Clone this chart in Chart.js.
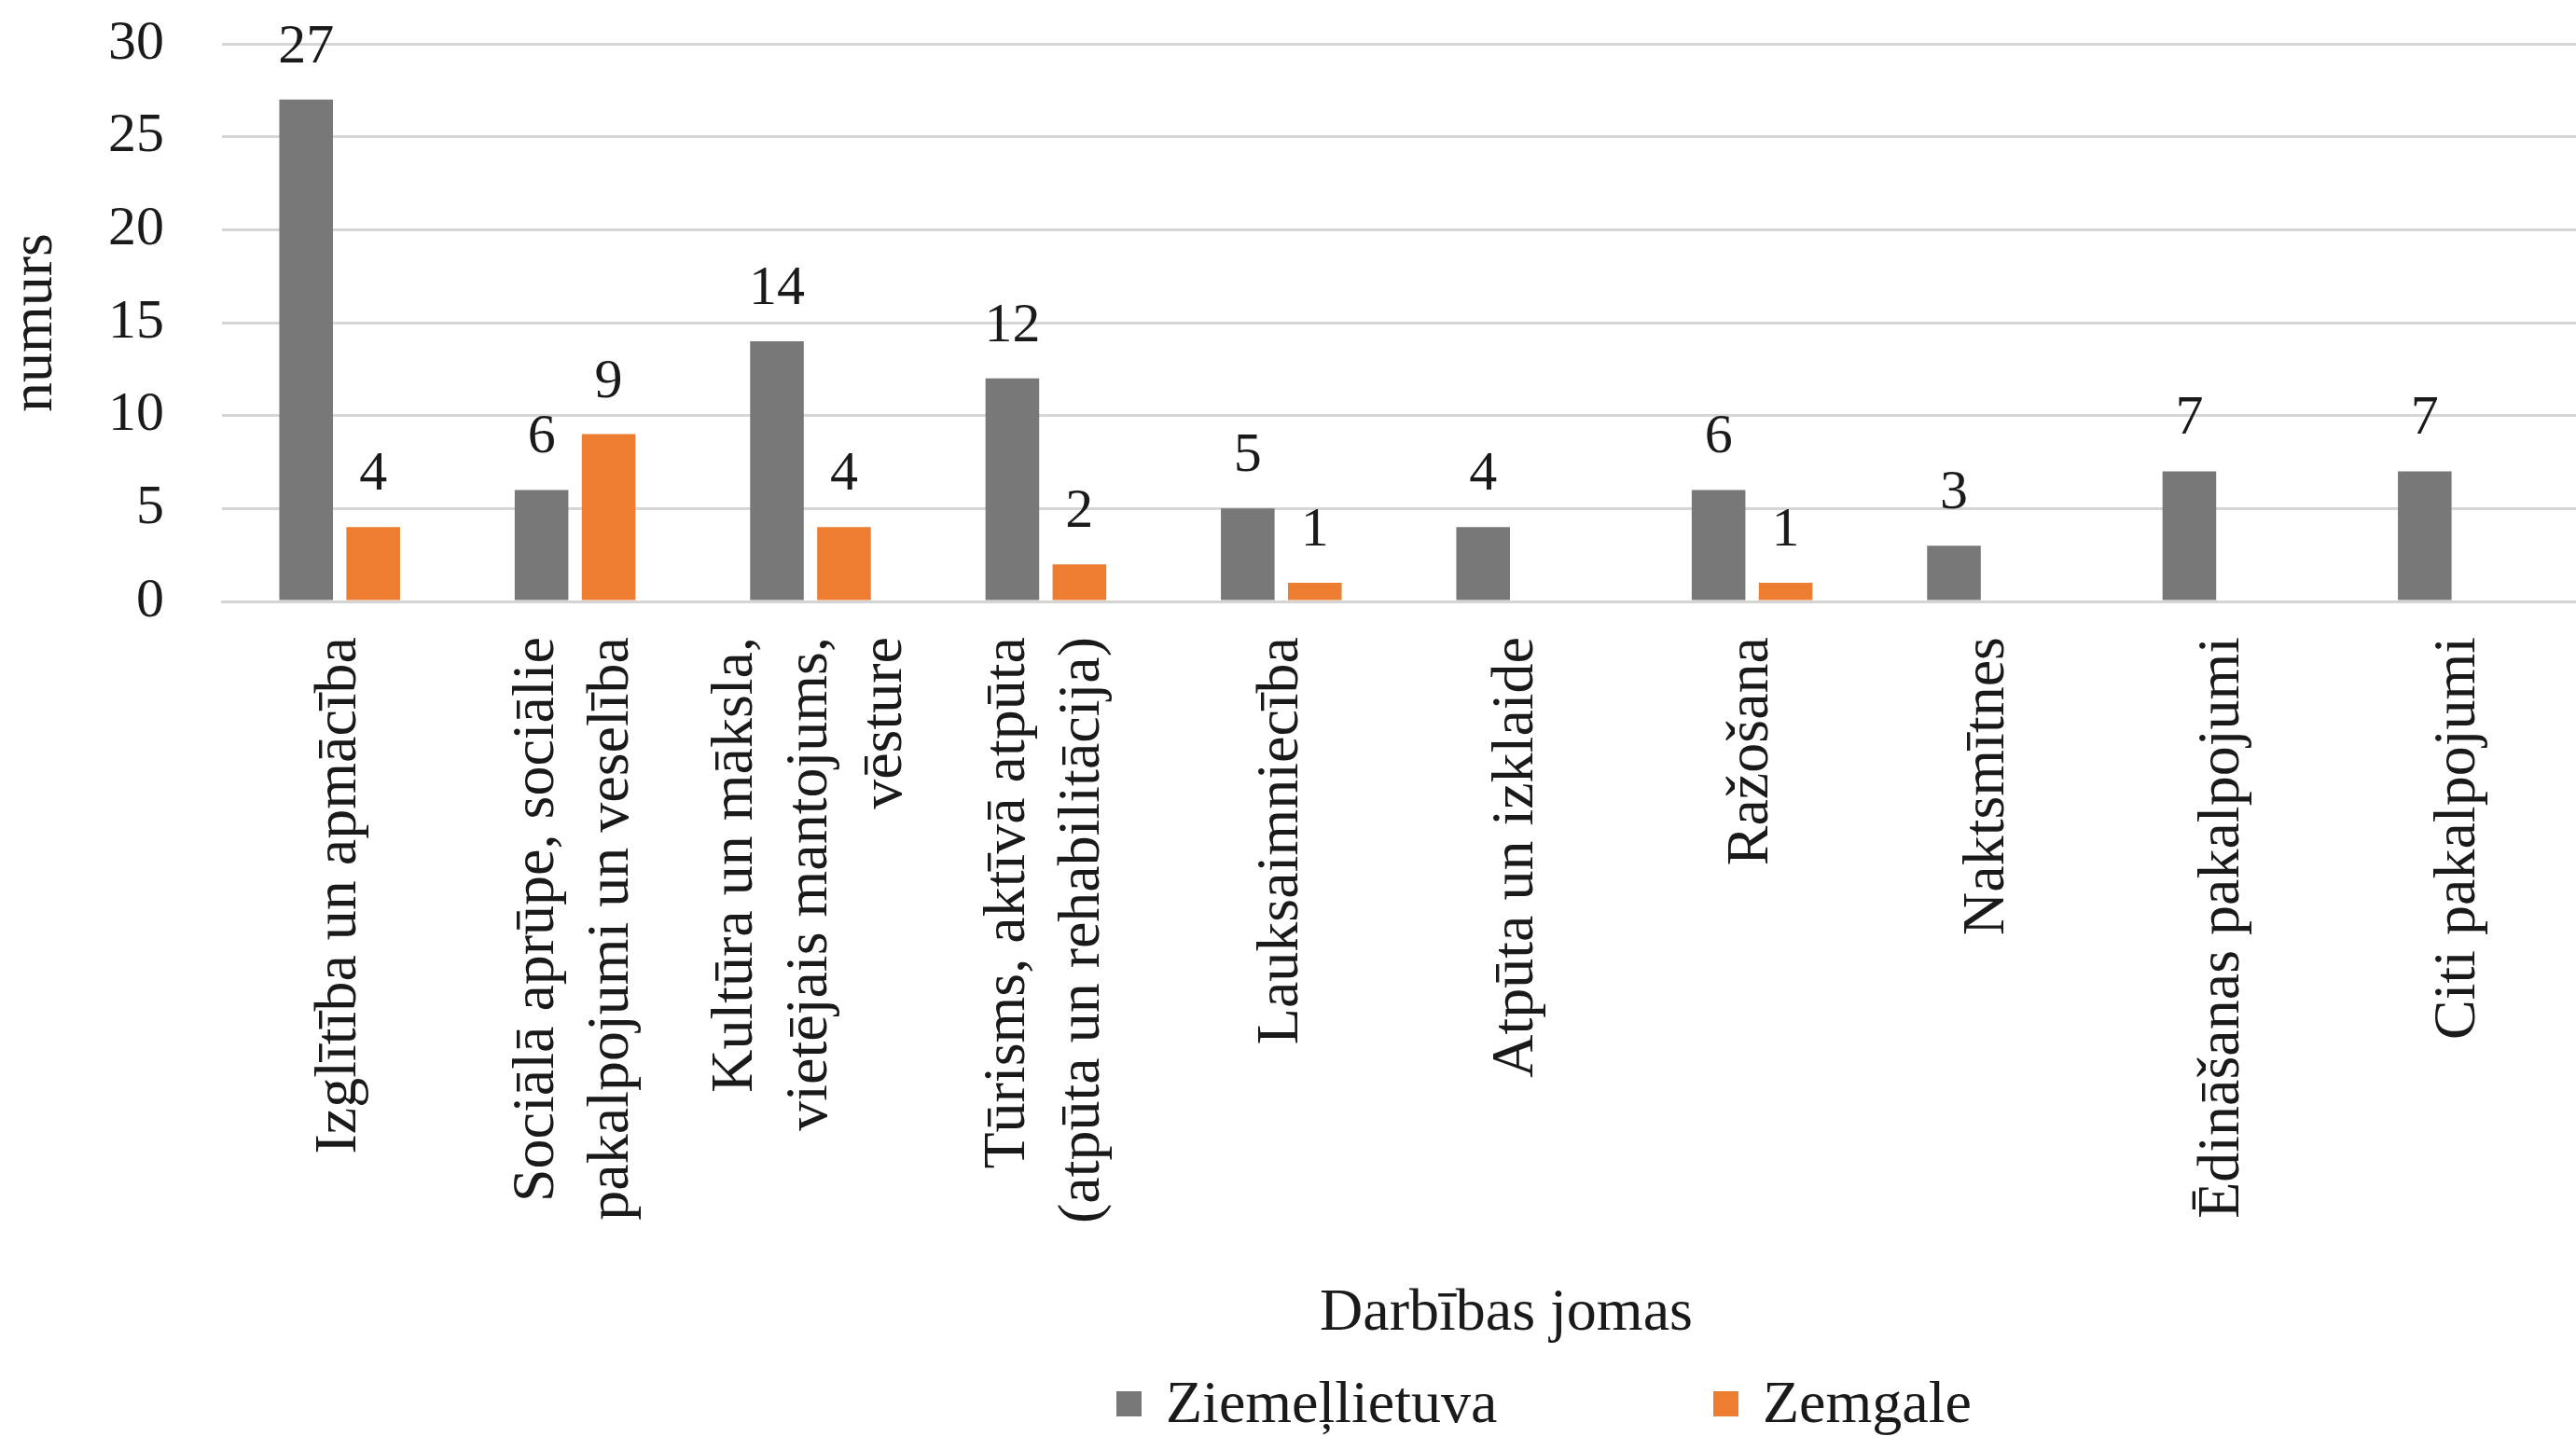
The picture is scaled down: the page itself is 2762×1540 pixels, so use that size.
<!DOCTYPE html>
<html>
<head>
<meta charset="utf-8">
<title>Darbības jomas</title>
<script src="https://cdn.jsdelivr.net/npm/chart.js@4.4.1/dist/chart.umd.min.js"></script>
<style>
    html, body { margin: 0; padding: 0; background: #ffffff; overflow: hidden; }
    #wrap { width: 2762px; height: 1540px; position: relative; }
</style>
</head>
<body>
<div id="wrap"><canvas id="chart"></canvas></div>
<script>
// Data
const categories = [
    'Izglītība un apmācība',
    ['Sociālā aprūpe, sociālie', 'pakalpojumi un veselība'],
    ['Kultūra un māksla,', 'vietējais mantojums,', 'vēsture'],
    ['Tūrisms, aktīvā atpūta', '(atpūta un rehabilitācija)'],
    'Lauksaimniecība',
    'Atpūta un izklaide',
    'Ražošana',
    'Naktsmītnes',
    'Ēdināšanas pakalpojumi',
    'Citi pakalpojumi'
];
const seriesNames = ['Ziemeļlietuva', 'Zemgale'];
const ziemellietuva = [27, 6, 14, 12, 5, 4, 6, 3, 7, 7];
const zemgale = [4, 9, 4, 2, 1, null, 1, null, null, null];
const yTicks = [0, 5, 10, 15, 20, 25, 30];
const xTitle = 'Darbības jomas';
const yTitle = 'numurs';

const FONT = '"Liberation Serif", "Times New Roman", serif';
const TEXT = '#1a1a1a';

// Excel centers multi-line rotated labels on the tick, Chart.js starts the first line there
const centerMultiLine = {
    id: 'centerMultiLine',
    beforeDraw(chart) {
        const items = chart.scales.x.getLabelItems();
        if (items._centered) return;
        items.forEach(item => {
            const lines = Array.isArray(item.label) ? item.label.length : 1;
            item.options.translation[0] -= (lines - 1) * item.font.lineHeight / 2;
        });
        items._centered = true;
    }
};

// Value labels above the bars
const barValueLabels = {
    id: 'barValueLabels',
    afterDatasetsDraw(chart) {
        const ctx = chart.ctx;
        ctx.save();
        ctx.font = '60px ' + FONT;
        ctx.fillStyle = TEXT;
        ctx.textAlign = 'center';
        ctx.textBaseline = 'alphabetic';
        chart.data.datasets.forEach((ds, i) => {
            chart.getDatasetMeta(i).data.forEach((bar, j) => {
                const v = ds.data[j];
                if (v === null || v === undefined) return;
                ctx.fillText(String(v), bar.x, bar.y - 40);
            });
        });
        ctx.restore();
    }
};

// Axis caption and legend under the labels, placed like the original
const bottomLegend = {
    id: 'bottomLegend',
    afterDraw(chart) {
        const ctx = chart.ctx;
        const itemX = [1197, 1837];
        const y = chart.height - 35;
        ctx.save();
        ctx.font = '64px ' + FONT;
        ctx.fillStyle = TEXT;
        ctx.textAlign = 'center';
        ctx.textBaseline = 'middle';
        ctx.fillText(xTitle, 1615, 1409);

        ctx.textAlign = 'left';
        ctx.textBaseline = 'alphabetic';
        chart.data.datasets.forEach((ds, i) => {
            ctx.fillStyle = ds.backgroundColor;
            ctx.fillRect(itemX[i], y - 13, 27, 27);
            ctx.fillStyle = TEXT;
            ctx.fillText(ds.label, itemX[i] + 53, y + 20);
        });
        ctx.restore();
    }
};

new Chart(document.getElementById('chart'), {
    type: 'bar',
    data: {
        labels: categories,
        datasets: [{
            label: seriesNames[0],
            data: ziemellietuva,
            backgroundColor: '#787878'
        }, {
            label: seriesNames[1],
            data: zemgale,
            backgroundColor: '#ED7D31'
        }]
    },
    options: {
        responsive: true,
        maintainAspectRatio: false,
        animation: false,
        categoryPercentage: 0.57,
        barPercentage: 0.8,
        layout: {
            padding: { top: 47, right: 0, bottom: 92, left: 0 }
        },
        plugins: {
            legend: { display: false },
            tooltip: { enabled: false }
        },
        scales: {
            x: {
                grid: { display: false, drawTicks: false },
                border: { display: true, color: '#d4d4d4', width: 3 },
                ticks: {
                    color: TEXT,
                    font: { family: FONT, size: 64, lineHeight: 1.25 },
                    minRotation: 90,
                    maxRotation: 90,
                    autoSkip: false,
                    padding: 38
                },
                title: { display: false, text: xTitle },
                afterFit(scale) {
                    scale.height = 803;
                }
            },
            y: {
                min: yTicks[0],
                max: yTicks[yTicks.length - 1],
                grid: { color: '#d6d6d6', lineWidth: 3, drawTicks: false },
                border: { display: false },
                ticks: {
                    stepSize: yTicks[1] - yTicks[0],
                    color: TEXT,
                    font: { family: FONT, size: 60 },
                    padding: 62
                },
                title: {
                    display: true,
                    text: yTitle,
                    color: TEXT,
                    font: { family: FONT, size: 64 },
                    padding: 0
                },
                afterFit(scale) {
                    // tick padding would otherwise push the plot down
                    scale.width = 238;
                    scale.paddingTop = 0;
                    scale.paddingBottom = 0;
                }
            }
        }
    },
    plugins: [centerMultiLine, barValueLabels, bottomLegend]
});
</script>
</body>
</html>
